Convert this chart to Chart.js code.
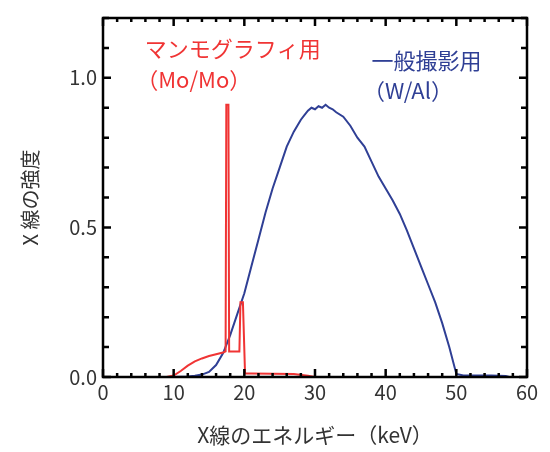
<!DOCTYPE html>
<html><head><meta charset="utf-8">
<script src="https://cdn.jsdelivr.net/npm/chart.js@4.4.0/dist/chart.umd.min.js"></script>
<style>html,body{margin:0;padding:0;background:#fff}#wrap{width:550px;height:452px}</style>
</head><body><div id="wrap"><canvas id="c" width="550" height="452"></canvas></div>
<script>
const xTickLabels = [0, 10, 20, 30, 40, 50, 60];
const yTickLabels = [0.0, 0.5, 1.0];

const redX = [0, 9, 10, 11, 12, 13, 14, 15, 16, 17, 17.35, 17.45, 17.75, 17.85, 19.3, 19.45, 19.8, 20.1, 21, 27, 29, 30, 60];
const redY = [0, 0, 0.005, 0.02, 0.038, 0.052, 0.062, 0.07, 0.076, 0.082, 0.086, 0.91, 0.91, 0.085, 0.085, 0.25, 0.25, 0.012, 0.012, 0.01, 0.004, 0, 0];

const blueX = [0, 10, 12, 13, 14, 15, 16, 17, 18, 19, 20, 21, 22, 23, 24, 25, 26, 27, 27.5, 28, 28.5, 29, 29.5, 30, 30.5, 31, 31.5, 32, 32.5, 33, 34, 35, 36, 37, 38, 39, 40, 41, 42, 43, 44, 45, 46, 47, 48, 49, 50, 51, 55, 57, 57.5, 60];
const blueY = [0, 0, 0.002, 0.004, 0.008, 0.017, 0.04, 0.08, 0.14, 0.21, 0.28, 0.37, 0.46, 0.55, 0.63, 0.70, 0.77, 0.82, 0.84, 0.86, 0.875, 0.89, 0.9, 0.895, 0.905, 0.9, 0.91, 0.9, 0.895, 0.885, 0.87, 0.84, 0.80, 0.77, 0.72, 0.67, 0.63, 0.59, 0.545, 0.49, 0.43, 0.37, 0.31, 0.25, 0.18, 0.1, 0.01, 0.005, 0.005, 0.003, 0, 0];

const redLabel = ['マンモグラフィ用', '（Mo/Mo）'];
const blueLabel = ['一般撮影用', '（W/Al）'];
const xTitle = 'X線のエネルギー（keV）';
const yTitle = 'X 線の強度';

const RED = '#f03434';
const BLUE = '#2f3f95';
const FONT = '"Noto Sans CJK JP", "Noto Sans", sans-serif';

const toPts = (xs, ys) => xs.map((x, i) => ({x, y: ys[i]}));

const framePlugin = {
  id: 'frame',
  afterDatasetsDraw(chart) {
    const {ctx, chartArea: a, scales: {x, y}} = chart;
    ctx.save();
    ctx.strokeStyle = '#000';
    ctx.lineWidth = 2.5;
    ctx.lineCap = 'butt';
    ctx.strokeRect(a.left, a.top, a.right - a.left, a.bottom - a.top);
    ctx.beginPath();
    for (let v = 0; v <= 60; v += 2) {
      const px = x.getPixelForValue(v);
      const len = v % 10 === 0 ? 8 : 4;
      ctx.moveTo(px, a.bottom); ctx.lineTo(px, a.bottom - len);
      ctx.moveTo(px, a.top); ctx.lineTo(px, a.top + len);
    }
    for (let i = 0; i <= 12; i++) {
      const v = i / 10;
      const py = y.getPixelForValue(v);
      const len = i % 5 === 0 ? 8 : 6;
      ctx.moveTo(a.left, py); ctx.lineTo(a.left + len, py);
      ctx.moveTo(a.right, py); ctx.lineTo(a.right - len, py);
    }
    ctx.stroke();
    ctx.font = '22px ' + FONT;
    ctx.textBaseline = 'middle';
    ctx.textAlign = 'left';
    ctx.fillStyle = RED;
    ctx.fillText(redLabel[0], x.getPixelForValue(5.9), y.getPixelForValue(1.097));
    ctx.fillText(redLabel[1], x.getPixelForValue(4.7), y.getPixelForValue(0.993));
    ctx.fillStyle = BLUE;
    ctx.fillText(blueLabel[0], x.getPixelForValue(38.0), y.getPixelForValue(1.057));
    ctx.fillText(blueLabel[1], x.getPixelForValue(36.8), y.getPixelForValue(0.957));
    ctx.restore();
  }
};

new Chart(document.getElementById('c'), {
  type: 'line',
  data: {
    datasets: [
      {data: toPts(redX, redY), borderColor: RED, borderWidth: 2, pointRadius: 0, tension: 0, fill: false},
      {data: toPts(blueX, blueY), borderColor: BLUE, borderWidth: 2, pointRadius: 0, tension: 0, fill: false}
    ]
  },
  options: {
    responsive: false,
    animation: false,
    events: [],
    layout: {padding: {left: 0, right: 23, top: 17, bottom: 0}},
    plugins: {legend: {display: false}, tooltip: {enabled: false}},
    scales: {
      x: {
        type: 'linear', min: 0, max: 60,
        grid: {display: false, drawTicks: false},
        border: {display: false},
        afterBuildTicks: s => { s.ticks = xTickLabels.map(v => ({value: v})); },
        afterFit: s => { s.height = 75; },
        ticks: {font: {family: FONT, size: 20}, color: '#333', padding: 3, maxRotation: 0},
        title: {display: true, text: xTitle, font: {family: FONT, size: 21}, color: '#333', padding: {top: 9}}
      },
      y: {
        type: 'linear', min: 0, max: 1.2,
        grid: {display: false, drawTicks: false},
        border: {display: false},
        afterBuildTicks: s => { s.ticks = yTickLabels.map(v => ({value: v})); },
        afterFit: s => { s.width = 103; },
        ticks: {font: {family: FONT, size: 20}, color: '#333', padding: 6, callback: v => Number(v).toFixed(1)},
        title: {display: true, text: yTitle, font: {family: FONT, size: 20}, color: '#333', padding: {top: 18}}
      }
    }
  },
  plugins: [framePlugin]
});
</script></body></html>
